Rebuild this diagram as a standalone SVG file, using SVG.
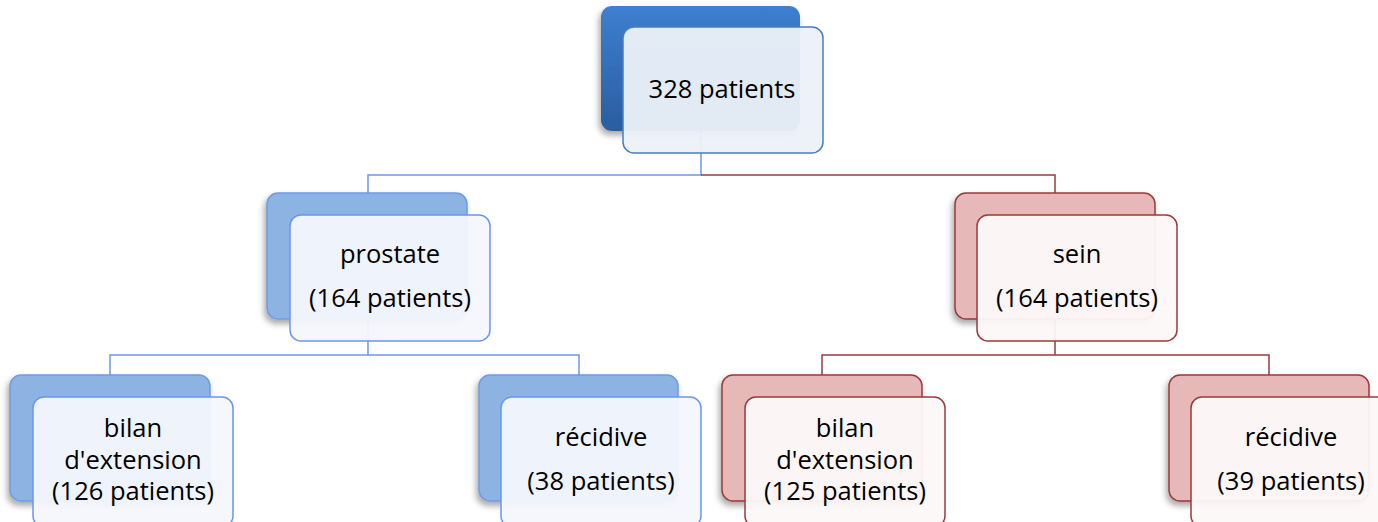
<svg xmlns="http://www.w3.org/2000/svg" width="1378" height="522" viewBox="0 0 1378 522">
<defs>
<linearGradient id="gTop" x1="0" y1="0" x2="0" y2="1">
<stop offset="0" stop-color="#3d7fd0"/>
<stop offset="1" stop-color="#2a5d9f"/>
</linearGradient>
<filter id="sh" x="-10%" y="-10%" width="125%" height="130%">
<feDropShadow dx="-2" dy="4" stdDeviation="3" flood-color="#000" flood-opacity="0.35"/>
</filter>
</defs>
<style>
text{font-family:"Open Sans","Noto Sans","DejaVu Sans",sans-serif;font-size:25.5px;fill:#000;text-anchor:middle}
.bb{fill:#8db3e2;stroke:#6f9ae6;stroke-width:1.5}
.bf{fill:#f4f7fc;fill-opacity:0.95;stroke:#6b95f0;stroke-width:1.5}
.rb{fill:#e6b8b8;stroke:#9b3a3a;stroke-width:1.5}
.rf{fill:#fcf8f8;fill-opacity:0.95;stroke:#9b3a3a;stroke-width:1.5}
.lb{fill:none;stroke:#6d96ea;stroke-width:1.5}
.lr{fill:none;stroke:#9b3a3a;stroke-width:1.5}
</style>
<g id="connectors">
<path class="lb" d="M701 131 V175 H368 V193"/>
<path class="lr" d="M701 175 H1055 V193"/>
<path class="lb" d="M368 319 V355 H110 V375 M368 355 H579 V375"/>
<path class="lr" d="M1055 319 V355 H822 V375 M1055 355 H1269 V375"/>
</g>
<g id="n-top">
<rect x="601" y="6" width="199" height="125" rx="11" fill="url(#gTop)" filter="url(#sh)"/>
<rect x="623" y="27" width="200" height="126" rx="11" fill="#ecf1f8" fill-opacity="0.95" stroke="#4a7cc4" stroke-width="1.5"/>
<text x="722" y="98">328 patients</text>
</g>
<g id="n-prostate">
<rect class="bb" x="267" y="193" width="200" height="126" rx="11" filter="url(#sh)"/>
<rect class="bf" x="290" y="215" width="200" height="126" rx="11"/>
<text x="390" y="263">prostate</text>
<text x="390" y="307">(164 patients)</text>
</g>
<g id="n-sein">
<rect class="rb" x="955" y="193" width="200" height="126" rx="11" filter="url(#sh)"/>
<rect class="rf" x="977" y="215" width="200" height="126" rx="11"/>
<text x="1077" y="263">sein</text>
<text x="1077" y="307">(164 patients)</text>
</g>
<g id="n-p-bilan">
<rect class="bb" x="10" y="375" width="200" height="126" rx="11" filter="url(#sh)"/>
<rect class="bf" x="33" y="397" width="200" height="130" rx="11"/>
<text x="133" y="437">bilan</text>
<text x="133" y="469">d'extension</text>
<text x="133" y="500">(126 patients)</text>
</g>
<g id="n-p-recidive">
<rect class="bb" x="479" y="375" width="199" height="126" rx="11" filter="url(#sh)"/>
<rect class="bf" x="501" y="397" width="200" height="130" rx="11"/>
<text x="601" y="446">récidive</text>
<text x="601" y="490">(38 patients)</text>
</g>
<g id="n-s-bilan">
<rect class="rb" x="722" y="375" width="200" height="126" rx="11" filter="url(#sh)"/>
<rect class="rf" x="745" y="397" width="200" height="130" rx="11"/>
<text x="845" y="437">bilan</text>
<text x="845" y="469">d'extension</text>
<text x="845" y="500">(125 patients)</text>
</g>
<g id="n-s-recidive">
<rect class="rb" x="1169" y="375" width="200" height="126" rx="11" filter="url(#sh)"/>
<rect class="rf" x="1191" y="397" width="200" height="130" rx="11"/>
<text x="1291" y="446">récidive</text>
<text x="1291" y="490">(39 patients)</text>
</g>
</svg>
